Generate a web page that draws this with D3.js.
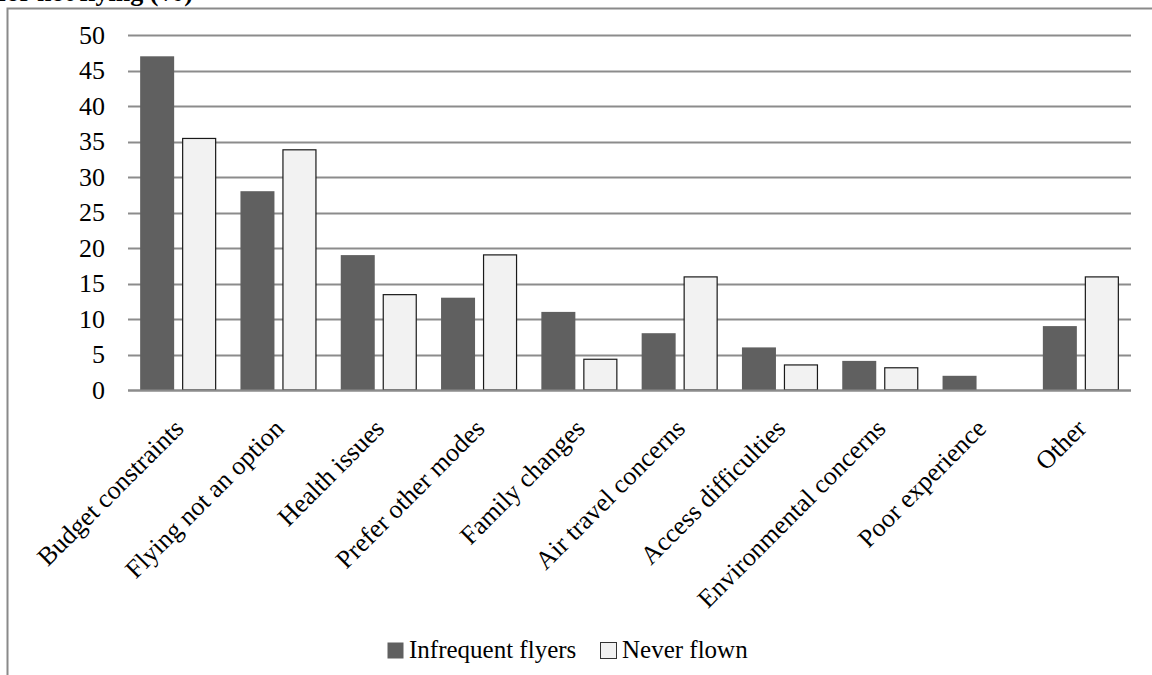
<!DOCTYPE html>
<html lang="en">
<head>
<meta charset="UTF-8">
<title>Reasons for not flying</title>
<script src="https://cdn.jsdelivr.net/npm/d3@7"></script>
<style>
  body { margin: 0; background: #fff; }
  text { font-family: "Liberation Serif", "Times New Roman", serif; fill: #000; }
</style>
</head>
<body>
<div id="app"></div>
<script>
var categories = ["Budget constraints", "Flying not an option", "Health issues", "Prefer other modes",
    "Family changes", "Air travel concerns", "Access difficulties", "Environmental concerns",
    "Poor experience", "Other"];
var infrequent = [47, 28, 19, 13, 11, 8, 6, 4.1, 2, 9];
var neverFlown = [35.5, 33.9, 13.5, 19.1, 4.4, 16, 3.6, 3.2, 0, 16];
var seriesNames = ["Infrequent flyers", "Never flown"];
var yTicks = [0, 5, 10, 15, 20, 25, 30, 35, 40, 45, 50];

var width = 1152, height = 675;
var plot = { left: 128, right: 1131, top: 35, bottom: 390 };
var colors = ["#606060", "#f2f2f2"];

var svg = d3.select("#app").append("svg")
    .attr("width", width)
    .attr("height", height);

// frame (cut off at right and bottom like the original)
svg.append("rect")
    .attr("x", 7.5).attr("y", 8.5)
    .attr("width", 1300).attr("height", 800)
    .attr("fill", "none")
    .attr("stroke", "#8a8a8a")
    .attr("stroke-width", 2);

// title, mostly above the visible area
svg.append("text")
    .attr("x", 193).attr("y", 1)
    .attr("text-anchor", "end")
    .style("font-weight", "bold")
    .style("font-size", "26px")
    .text("Reasons for not flying (%)");

var x = d3.scaleBand()
    .domain(categories)
    .range([plot.left, plot.right])
    .paddingInner(0)
    .paddingOuter(0);

var y = d3.scaleLinear()
    .domain([0, 50])
    .range([plot.bottom, plot.top]);

// gridlines
svg.append("g")
    .selectAll("line")
    .data(yTicks)
    .enter()
    .append("line")
    .attr("x1", plot.left).attr("x2", plot.right)
    .attr("y1", function (d) { return Math.round(y(d)) + 0.5; })
    .attr("y2", function (d) { return Math.round(y(d)) + 0.5; })
    .attr("stroke", "#8c8c8c")
    .attr("stroke-width", 2);

// y labels
var yAxis = d3.axisLeft(y).tickValues(yTicks).tickSize(0).tickPadding(0);
var ya = svg.append("g")
    .attr("transform", "translate(" + 105 + ",0)")
    .call(yAxis);
ya.select(".domain").remove();
ya.selectAll("text")
    .style("font-size", "26px")
    .style("font-family", "Liberation Serif, serif")
    .attr("fill", "#000");

// bars
var barW = 34, gap = 8;
var groups = svg.append("g")
    .selectAll("g")
    .data(categories)
    .enter()
    .append("g")
    .attr("transform", function (d) { return "translate(" + (x(d) + x.bandwidth() / 2) + ",0)"; });

groups.append("rect")
    .attr("x", -gap / 2 - barW)
    .attr("width", barW)
    .attr("y", function (d, i) { return y(infrequent[i]); })
    .attr("height", function (d, i) { return y(0) - y(infrequent[i]); })
    .attr("fill", colors[0]);

groups.append("rect")
    .attr("x", gap / 2 + 0.5)
    .attr("width", barW - 1)
    .attr("y", function (d, i) { return y(neverFlown[i]) + 0.5; })
    .attr("height", function (d, i) { return Math.max(0, y(0) - y(neverFlown[i]) - 0.5); })
    .attr("fill", colors[1])
    .attr("stroke", function (d, i) { return neverFlown[i] > 0 ? "#1a1a1a" : "none"; })
    .attr("stroke-width", 1.2);

// redraw baseline on top
svg.append("line")
    .attr("x1", plot.left).attr("x2", plot.right)
    .attr("y1", Math.round(y(0)) + 0.5).attr("y2", Math.round(y(0)) + 0.5)
    .attr("stroke", "#8c8c8c")
    .attr("stroke-width", 2);

// category labels, rotated
groups.append("text")
    .attr("transform", "translate(7,430) rotate(-45)")
    .attr("text-anchor", "end")
    .style("font-size", "26px")
    .text(function (d) { return d; });

// legend
var legend = svg.append("g");
var legendX = [387, 600];
seriesNames.forEach(function (name, i) {
    legend.append("rect")
        .attr("x", legendX[i] + 0.5).attr("y", 642.5)
        .attr("width", 16).attr("height", 16)
        .attr("fill", colors[i])
        .attr("stroke", i === 1 ? "#333" : "none");
    legend.append("text")
        .attr("x", legendX[i] + 22).attr("y", 658)
        .style("font-size", "25px")
        .text(name);
});
</script>
</body>
</html>
